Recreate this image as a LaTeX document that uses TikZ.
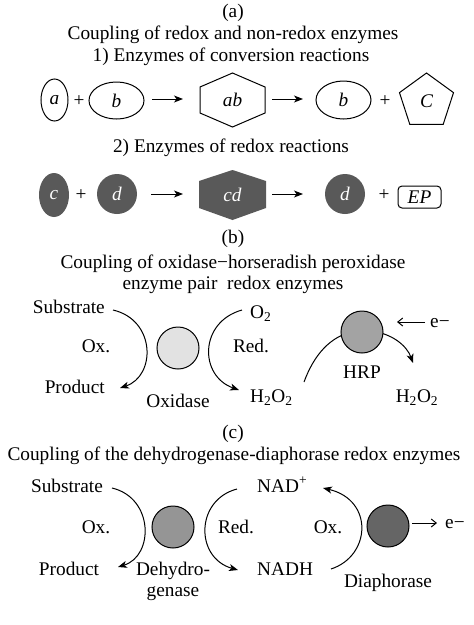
\documentclass[tikz,border=0pt]{standalone}
\usepackage{fontspec}
\setmainfont{Liberation Serif}
\usetikzlibrary{shapes.geometric,arrows.meta}
\definecolor{darkfill}{HTML}{595959}
\definecolor{oxfill}{HTML}{E2E2E2}
\definecolor{hrpfill}{HTML}{A3A3A3}
\definecolor{dhfill}{HTML}{959595}
\definecolor{diafill}{HTML}{656565}
\tikzset{
  lbl/.style={inner sep=0pt, anchor=base},
  lblw/.style={inner sep=0pt, anchor=base west},
  shp/.style={draw=black, line width=1pt, inner sep=0pt},
  dshp/.style={fill=darkfill, draw=none, inner sep=0pt, text=white},
  enz/.style={circle, draw=black, line width=1pt, minimum size=42pt, inner sep=0pt},
  arr/.style={line width=1pt, -{Stealth[length=9pt,width=7pt,inset=2.5pt]}},
  thin/.style={line width=1pt, -{Straight Barb[length=5pt,width=8pt]}},
  curve/.style={line width=1pt}
}
\begin{document}
\begin{tikzpicture}[x=1pt,y=-1pt,font=\fontsize{19.3}{22}\selectfont]
\useasboundingbox (0,0) rectangle (474,625);
\fill[white] (0,0) rectangle (474,625);
% ---------- (a)
\node[lbl] (ta) at (233,17) {(a)};
\node[lbl] (ta1) at (233,39) {Coupling of redox and non-redox enzymes};
\node[lbl] (ta2) at (231,61) {1) Enzymes of conversion reactions};
% row 1
\node[shp, ellipse, minimum width=27pt, minimum height=42pt] (ea) at (54.5,100) {\itshape a};
\node[lbl] (p1) at (79,106) {+};
\node[shp, ellipse, minimum width=55pt, minimum height=37pt] (eb) at (116.5,100.5) {\itshape b};
\coordinate (r1a) at (152,99); \coordinate (r1b) at (183,99);
\draw[arr] (r1a) -- (r1b);
\draw[line width=1pt] (232.5,73) -- (265,87) -- (265,113) -- (232.5,127) -- (200,113) -- (200,87) -- cycle;
\node[inner sep=0pt] (hab) at (232.5,100) {\itshape ab};
\coordinate (r1c) at (272,99); \coordinate (r1d) at (303,99);
\draw[arr] (r1c) -- (r1d);
\node[shp, ellipse, minimum width=55pt, minimum height=38pt] (eb2) at (343.5,100) {\itshape b};
\node[lbl] (p2) at (385,106) {+};
\node[shp, regular polygon, regular polygon sides=5, minimum size=56.8pt] (pc) at (426.5,101.4) {};
\node[inner sep=0pt] (pct) at (426.5,101) {\itshape C};
% row 2
\node[lbl] (ta3) at (231,152.5) {2) Enzymes of redox reactions};
\node[dshp, ellipse, minimum width=30pt, minimum height=44pt] (ec) at (54,195) {\itshape c};
\node[lbl] (p3) at (81,200) {+};
\node[dshp, circle, minimum size=40pt] (cd1) at (117,194) {\itshape d};
\coordinate (r2a) at (151,194); \coordinate (r2b) at (183,194);
\draw[arr] (r2a) -- (r2b);
\fill[darkfill] (232.5,170) -- (266,181) -- (266,208) -- (232.5,220) -- (199,208) -- (199,181) -- cycle;
\node[inner sep=0pt, text=white] (hcd) at (232.5,195) {\itshape cd};
\coordinate (r2c) at (272,194); \coordinate (r2d) at (303,194);
\draw[arr] (r2c) -- (r2d);
\node[dshp, circle, minimum size=40pt] (cd2) at (345,194) {\itshape d};
\node[lbl] (p4) at (384,200) {+};
\node[shp, rounded corners=4pt, minimum width=43pt, minimum height=22pt] (ep) at (419.5,197) {\itshape EP};
% ---------- (b)
\node[lbl] (tb) at (233,243) {(b)};
\node[lbl] (tb1) at (233,268) {Coupling of oxidase−horseradish peroxidase};
\node[lbl] (tb2) at (233,289.5) {enzyme pair\ \ redox enzymes};
\node[lbl, anchor=base east] (bsub) at (105,313) {Substrate};
\node[lbl] (box) at (96,352) {Ox.};
\node[lbl, anchor=base east] (bprod) at (105,393) {Product};
\node[enz, fill=oxfill] (oxi) at (178,348) {};
\node[lbl] (oxil) at (178,407) {Oxidase};
\node[lblw] (bo2) at (250,318) {O\textsubscript{2}};
\node[lbl] (bred) at (251,352) {Red.};
\node[lblw] (bh2o2) at (250,402) {H\textsubscript{2}O\textsubscript{2}};
\coordinate (bs1) at (113,310); \coordinate (bs2) at (120,388);
\draw[curve, arr] (bs1) .. controls (156,320) and (156,376) .. (bs2);
\coordinate (bo1) at (242,310); \coordinate (bo2e) at (239,390);
\draw[curve, arr] (bo1) .. controls (199,322) and (199,376) .. (bo2e);
\coordinate (h1) at (304,382); \coordinate (h2) at (355,331);
\draw[curve] (h1) .. controls (314,355) and (330,336) .. (h2);
\coordinate (h3) at (370,331); \coordinate (h4) at (413,363);
\draw[curve, arr] (h3) .. controls (392,333) and (407,346) .. (h4);
\node[enz, fill=hrpfill] (hrp) at (362,332) {};
\node[lbl] (hrpl) at (362,378) {HRP};
\node[lbl] (bh2o2r) at (417,402) {H\textsubscript{2}O\textsubscript{2}};
\node[lblw] (be) at (430,327) {e−};
\coordinate (be1) at (425,322); \coordinate (be2) at (397,322);
\draw[thin] (be1) -- (be2);
% ---------- (c)
\node[lbl] (tc) at (233,438) {(c)};
\node[lbl] (tc1) at (234,460) {Coupling of the dehydrogenase-diaphorase redox enzymes};
\node[lbl] (csub) at (67,492) {Substrate};
\node[lbl] (cox) at (96,533) {Ox.};
\node[lbl] (cprod) at (69,575) {Product};
\node[enz, fill=dhfill] (dh) at (173,527) {};
\node[lbl] (dhl1) at (173,575) {Dehydro-};
\node[lbl] (dhl2) at (173,596) {genase};
\node[lbl] (cred) at (236,533) {Red.};
\node[lblw] (nad) at (257,492) {NAD\textsuperscript{+}};
\node[lblw] (nadh) at (257,575) {NADH};
\node[lbl] (cox2) at (328,533) {Ox.};
\node[enz, fill=diafill] (dia) at (388,526) {};
\node[lbl] (dial) at (388,587) {Diaphorase};
\node[lblw] (ce) at (445,528) {e−};
\coordinate (cs1) at (112,488); \coordinate (cs2) at (118,567);
\draw[curve, arr] (cs1) .. controls (154,498) and (154,556) .. (cs2);
\coordinate (cr1) at (237,489); \coordinate (cr2) at (238,570);
\draw[curve, arr] (cr1) .. controls (195,500) and (195,558) .. (cr2);
\coordinate (co1) at (331,569); \coordinate (co2) at (323,488);
\draw[curve, arr] (co1) .. controls (371,556) and (374,500) .. (co2);
\coordinate (ce1) at (412,523); \coordinate (ce2) at (437,523);
\draw[thin] (ce1) -- (ce2);
\end{tikzpicture}
\end{document}
